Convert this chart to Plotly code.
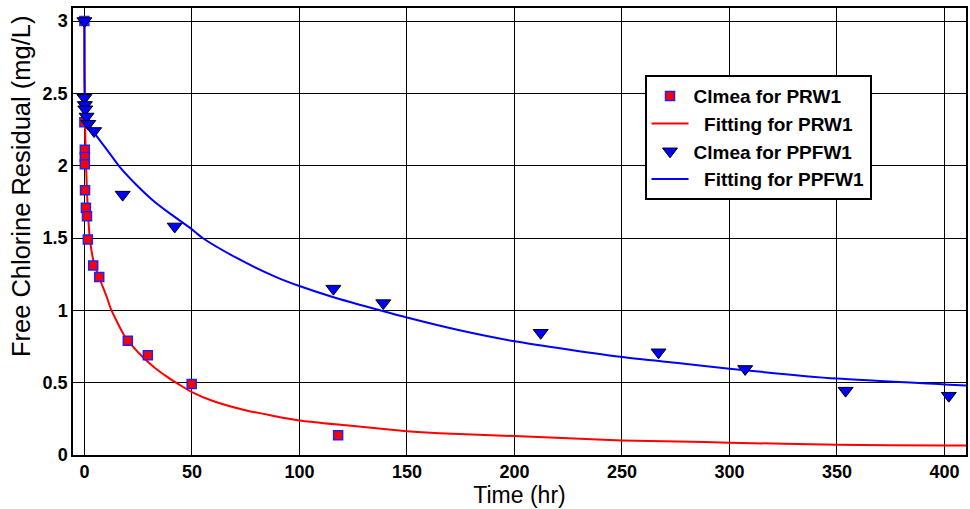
import plotly.graph_objects as go

# Measured data: PRW1
t_prw = [0, 0, 0.2, 0.2, 0.2, 0.3, 0.7, 1.2, 1.6, 4.1, 6.9, 20.2, 29.5, 49.9, 118]
c_prw = [3.0, 2.30, 2.11, 2.06, 2.01, 1.83, 1.71, 1.65, 1.49, 1.31, 1.23, 0.79, 0.69, 0.49, 0.136]

# Fitting curve PRW1
t_fit_prw = [0, 0.05, 0.3, 0.7, 1.2, 1.8, 2.5, 4.4, 7.2, 10.7, 12.3, 18.4, 22, 27.6, 33,
             38.5, 44.3, 50, 59.8, 75.3, 100, 121.7, 150, 165, 200, 250, 276, 300, 350, 400, 410]
c_fit_prw = [3.0, 2.6, 2.3, 2.05, 1.82, 1.64, 1.5, 1.33, 1.215, 1.08, 1.01, 0.83, 0.76, 0.67, 0.6,
             0.54, 0.485, 0.435, 0.373, 0.308, 0.239, 0.205, 0.165, 0.151, 0.131, 0.101, 0.094,
             0.085, 0.071, 0.066, 0.065]

# Measured data: PPFW1
t_ppfw = [0, 0, 0.2, 0.4, 1.0, 1.8, 4.5, 17.8, 42.0, 115.8, 139, 212.2, 267, 307.3, 354, 402]
c_ppfw = [3.0, 2.47, 2.42, 2.39, 2.34, 2.29, 2.24, 1.80, 1.58, 1.15, 1.05, 0.845, 0.71, 0.595, 0.445, 0.41]

# Fitting curve PPFW1
t_fit_ppfw = [0, 0.05, 0.2, 0.5, 1, 2.5, 4.9, 10, 16.5, 24, 31.9, 39.7, 50, 55, 70.6, 89.2,
              100, 115.5, 138.7, 150, 175, 200, 250, 276, 300, 350, 400, 410]
c_fit_ppfw = [3.0, 2.7, 2.45, 2.37, 2.33, 2.27, 2.22, 2.12, 1.99, 1.87, 1.76, 1.67, 1.56, 1.50,
              1.364, 1.23, 1.168, 1.092, 0.995, 0.95, 0.86, 0.786, 0.677, 0.636, 0.597, 0.528,
              0.488, 0.48]

x_ticks = [0, 50, 100, 150, 200, 250, 300, 350, 400]
y_ticks = [0, 0.5, 1, 1.5, 2, 2.5, 3]

FONT = "Liberation Sans, Arial, sans-serif"

fig = go.Figure()
fig.add_trace(go.Scatter(
    x=t_fit_prw, y=c_fit_prw, mode="lines", name="\u00a0\u00a0Fitting for PRW1",
    line=dict(color="#ff0000", width=2, shape="spline", smoothing=0.6),
    legendgroup="b", legendrank=2))
fig.add_trace(go.Scatter(
    x=t_fit_ppfw, y=c_fit_ppfw, mode="lines", name="\u00a0\u00a0Fitting for PPFW1",
    line=dict(color="#0000ff", width=2, shape="spline", smoothing=0.6),
    legendgroup="d", legendrank=4))
fig.add_trace(go.Scatter(
    x=t_prw, y=c_prw, mode="markers", name="Clmea for PRW1",
    marker=dict(symbol="square", size=9, color="#ff0000", line=dict(color="#2020ff", width=1.5)),
    legendgroup="a", legendrank=1))
fig.add_trace(go.Scatter(
    x=t_ppfw, y=c_ppfw, mode="markers", name="Clmea for PPFW1",
    marker=dict(symbol="triangle-down", size=13, color="#0000ff", line=dict(color="#000000", width=1)),
    legendgroup="c", legendrank=3))

axis_common = dict(
    showline=True, linecolor="black", linewidth=1.5, mirror=True,
    showgrid=True, gridcolor="black", gridwidth=1, zeroline=False,
    ticks="inside", ticklen=6, tickcolor="black",
    tickfont=dict(family=FONT, size=18, color="black", weight="bold"),
)

fig.update_xaxes(range=[-5.3, 410], tickvals=x_ticks, ticktext=[str(v) for v in x_ticks],
                 title=dict(text="Time (hr)", font=dict(family=FONT, size=23, color="black"), standoff=4),
                 **axis_common)
fig.update_yaxes(range=[0, 3.09], tickvals=y_ticks, **axis_common)

fig.add_annotation(
    text="Free Chlorine Residual (mg/L)", textangle=-90,
    xref="paper", yref="paper", x=-0.058, y=0.602, xanchor="center", yanchor="middle",
    showarrow=False, font=dict(family=FONT, size=25.5, color="black"),
)

fig.update_layout(
    width=970, height=509,
    margin=dict(l=73, r=2, t=8, b=54),
    paper_bgcolor="white", plot_bgcolor="white",
    showlegend=True,
    legend=dict(
        x=0.640, y=0.850, xanchor="left", yanchor="top",
        bgcolor="white", bordercolor="black", borderwidth=2,
        font=dict(family=FONT, size=19, color="black", weight="bold"),
        traceorder="grouped", tracegroupgap=0, itemwidth=37,
    ),
)

fig.write_html("out.html")
